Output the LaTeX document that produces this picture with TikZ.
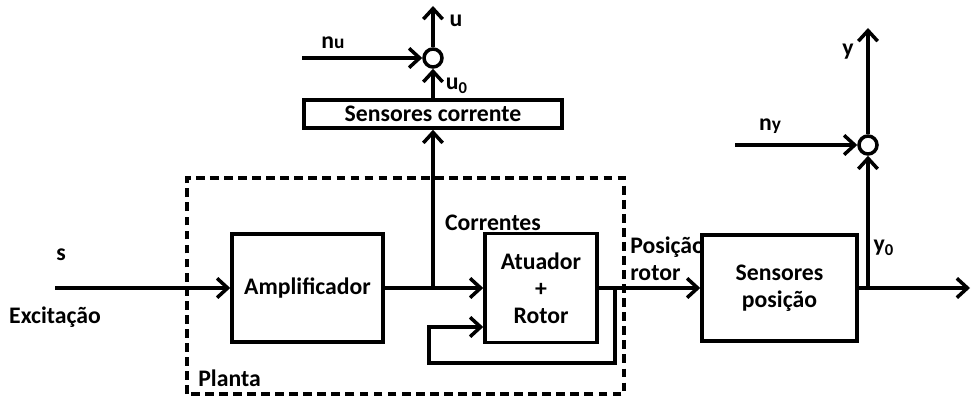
\documentclass[tikz,border=0pt]{standalone}
\usepackage{fontspec}
\setmainfont{Carlito}
\usetikzlibrary{positioning, arrows.meta}
\tikzset{
    blk/.style={rectangle, draw=black, line width=2pt, align=center, font=\fontsize{13.5}{15.3}\selectfont\bfseries},
    sumpt/.style={circle, draw=black, line width=2pt, minimum size=0.36cm, inner sep=0pt},
    arr/.style={-{Straight Barb[length=6pt, width=11pt]}, line width=2pt},
    plantbox/.style={draw=black, line width=2pt, dash pattern=on 5pt off 3pt},
    lbl/.style={font=\fontsize{13.5}{15.3}\selectfont\bfseries, inner sep=0pt, align=left}
}

\begin{document}
\begin{tikzpicture}
    \useasboundingbox (0,0) rectangle (19.42,7.96);
    % planta
    \draw[plantbox] (3.74,0.08) rectangle (12.48,4.4);
    \node[lbl, anchor=west] (planta) at (3.96,0.4) {Planta};
    % blocos
    \node[blk, minimum width=3.02cm, minimum height=2.16cm] (ampl) at (6.15,2.2) {Amplificador};
    \node[blk, minimum width=2.24cm, minimum height=2.18cm] (atuad) at (10.82,2.2) {Atuador\\+\\Rotor};
    \node[blk, minimum width=3.1cm, minimum height=2.12cm] (senspos) at (15.59,2.2) {Sensores\\posição};
    \node[blk, minimum width=5.16cm, minimum height=0.56cm, inner sep=0pt] (senscor) at (8.66,5.68) {Sensores corrente};
    \node[sumpt] (sumu) at (8.66,6.8) {};
    \node[sumpt] (sumy) at (17.36,5.06) {};
    % pontos livres
    \coordinate (sin) at (1.1,2.2);
    \coordinate (bru) at (8.66,2.2);
    \coordinate (nuin) at (6.04,6.8);
    \coordinate (uout) at (8.66,7.84);
    \coordinate (fbo) at (12.3,2.2);
    \coordinate (fbb) at (8.58,0.7);
    \coordinate (fbin) at ([yshift=-0.78cm]atuad.west);
    \coordinate (yout) at (19.4,2.2);
    \coordinate (bry) at (17.36,2.2);
    \coordinate (nyin) at (14.7,5.06);
    \coordinate (ytop) at (17.36,7.4);
    % ligacoes
    \draw[arr] (sin) -- (ampl);
    \draw[arr] (ampl) -- (atuad);
    \draw[arr] (bru) -- (senscor.south);
    \draw[arr] (senscor) -- (sumu);
    \draw[arr] (nuin) -- (sumu);
    \draw[arr] (sumu) -- (uout);
    \draw[arr] (fbo) |- (fbb) |- (fbin);
    \draw[arr] (atuad) -- (senspos);
    \draw[arr] (senspos) -- (yout);
    \draw[arr] (bry) -- (sumy);
    \draw[arr] (nyin) -- (sumy);
    \draw[arr] (sumy) -- (ytop);
    % rotulos
    \node[lbl] (ls) at (1.22,2.86) {s};
    \node[lbl] (lexc) at (1.1,1.62) {Excitação};
    \node[lbl] (lcor) at (9.86,3.5) {Correntes};
    \node[lbl, anchor=west] (lpos) at (12.6,2.79) {Posição\\rotor};
    \node[lbl] (lnu) at (6.66,7.1) {n{\fontsize{11}{12}\selectfont u}};
    \node[lbl] (lu) at (9.12,7.54) {u};
    \node[lbl] (lu0) at (9.14,6.24) {u\textsubscript{0}};
    \node[lbl] (ly) at (16.96,6.92) {y};
    \node[lbl] (lny) at (15.4,5.44) {n{\fontsize{11}{12}\selectfont y}};
    \node[lbl] (ly0) at (17.68,3.0) {y\textsubscript{0}};
\end{tikzpicture}
\end{document}
